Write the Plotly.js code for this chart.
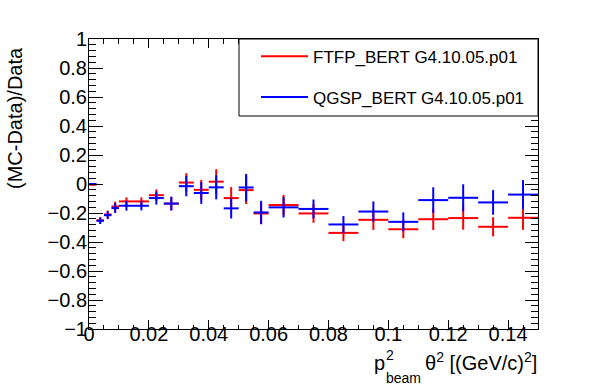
<!DOCTYPE html>
<html>
<head>
<meta charset="utf-8">
<script src="https://cdn.plot.ly/plotly-3.0.1.min.js"></script>
<style>html,body{margin:0;padding:0;background:#fff;}#chart{width:598px;height:386px;}</style>
</head>
<body>
<div id="chart"></div>
<script>
// bin centres of p_beam^2 theta^2 [(GeV/c)^2]
const binCenter = [0.00125, 0.00375, 0.00625, 0.00875, 0.0125, 0.0175, 0.0225, 0.0275, 0.0325, 0.0375, 0.0425, 0.0475, 0.0525, 0.0575, 0.065, 0.075, 0.085, 0.095, 0.105, 0.115, 0.125, 0.135, 0.145];
const binHalfWidth = [0.00125, 0.00125, 0.00125, 0.00125, 0.0025, 0.0025, 0.0025, 0.0025, 0.0025, 0.0025, 0.0025, 0.0025, 0.0025, 0.0025, 0.005, 0.005, 0.005, 0.005, 0.005, 0.005, 0.005, 0.005, 0.005];
// (MC-Data)/Data
const ftfpValue = [-0.005, -0.25, -0.21, -0.155, -0.12, -0.12, -0.077, -0.135, 0.01, -0.04, 0.016, -0.097, -0.042, -0.203, -0.145, -0.203, -0.337, -0.247, -0.312, -0.243, -0.235, -0.295, -0.233];
const ftfpError = [0.004, 0.022, 0.027, 0.033, 0.028, 0.028, 0.04, 0.047, 0.065, 0.068, 0.086, 0.076, 0.096, 0.075, 0.07, 0.065, 0.057, 0.07, 0.062, 0.074, 0.08, 0.066, 0.083];
const qgspValue = [0.0, -0.254, -0.215, -0.166, -0.15, -0.15, -0.097, -0.135, -0.015, -0.062, -0.023, -0.168, -0.024, -0.196, -0.161, -0.172, -0.279, -0.19, -0.261, -0.111, -0.095, -0.127, -0.073];
const qgspError = [0.004, 0.022, 0.027, 0.034, 0.034, 0.032, 0.045, 0.047, 0.07, 0.075, 0.083, 0.07, 0.094, 0.08, 0.07, 0.065, 0.058, 0.07, 0.065, 0.088, 0.093, 0.085, 0.1];
const seriesNames = ['FTFP_BERT G4.10.05.p01', 'QGSP_BERT G4.10.05.p01'];
const seriesColors = ['#ff0000', '#0000ff'];
const xTickValues = [0, 0.02, 0.04, 0.06, 0.08, 0.1, 0.12, 0.14];
const xTickLabels = ['0', '0.02', '0.04', '0.06', '0.08', '0.1', '0.12', '0.14'];

function dataTrace(y, err, i) {
  return {
    type: 'scatter', mode: 'markers', x: binCenter, y: y, name: seriesNames[i],
    showlegend: false, legendgroup: 'g' + i, hoverinfo: 'x+y',
    marker: {size: 4, color: seriesColors[i], opacity: 0},
    error_x: {type: 'data', array: binHalfWidth, visible: true, width: 0, thickness: 2, color: seriesColors[i]},
    error_y: {type: 'data', array: err, visible: true, width: 0, thickness: 2, color: seriesColors[i]}
  };
}
function legendTrace(i) {
  return {type: 'scatter', mode: 'lines', x: [null], y: [null], name: seriesNames[i],
    legendgroup: 'g' + i, line: {color: seriesColors[i], width: 2}, hoverinfo: 'skip'};
}

const traces = [legendTrace(0), legendTrace(1), dataTrace(ftfpValue, ftfpError, 0), dataTrace(qgspValue, qgspError, 1)];

const L = 89, R = 538, T = 39, B = 329;
const px = v => (v - L) / (R - L);
const py = v => (B - v) / (B - T);
const FONT = 'Liberation Sans, Arial, Helvetica, sans-serif';

const layout = {
  width: 598, height: 386,
  margin: {l: L, r: 598 - R, t: T, b: 386 - B, pad: 0},
  paper_bgcolor: '#ffffff', plot_bgcolor: '#ffffff',
  font: {family: FONT, size: 20, color: '#000000'},
  xaxis: {
    range: [0, 0.15], tickvals: xTickValues, ticktext: xTickLabels,
    ticks: 'inside', ticklen: 9, tickwidth: 1, tickcolor: '#000', ticklabelstandoff: -13,
    showline: true, linecolor: '#000', linewidth: 1, mirror: 'ticks',
    showgrid: false, zeroline: false, tickfont: {size: 20, family: FONT},
    minor: {dtick: 0.005, tick0: 0, ticks: 'inside', ticklen: 4.5, tickwidth: 1, tickcolor: '#000', showgrid: false}
  },
  yaxis: {
    range: [-1, 1], dtick: 0.2, tick0: 0,
    ticks: 'inside', ticklen: 13.5, tickwidth: 1, tickcolor: '#000', ticklabelstandoff: -3,
    showline: true, linecolor: '#000', linewidth: 1, mirror: 'ticks',
    showgrid: false, zeroline: false, tickfont: {size: 20, family: FONT},
    minor: {dtick: 0.04, tick0: 0, ticks: 'inside', ticklen: 6.7, tickwidth: 1, tickcolor: '#000', showgrid: false}
  },
  showlegend: true,
  legend: {
    x: px(256), y: py(38.8), xanchor: 'left', yanchor: 'top',
    bgcolor: 'rgba(0,0,0,0)', borderwidth: 0,
    font: {size: 17, family: FONT}, itemwidth: 47, tracegroupgap: 15.5
  },
  shapes: [
    {type: 'rect', xref: 'paper', yref: 'paper', x0: px(239), x1: 1, y0: py(116), y1: 1,
     line: {color: '#000', width: 1}, fillcolor: '#ffffff', layer: 'above'}
  ],
  annotations: [
    {text: '(MC-Data)/Data', textangle: -90, xref: 'paper', yref: 'paper', x: px(15), y: py(118),
     xanchor: 'center', yanchor: 'middle', showarrow: false, font: {size: 20, family: FONT}},
    {text: 'p', xref: 'paper', yref: 'paper', x: px(372), y: py(376), xanchor: 'left', yanchor: 'bottom',
     showarrow: false, font: {size: 20, family: FONT}},
    {text: '2', xref: 'paper', yref: 'paper', x: px(384), y: py(364.5), xanchor: 'left', yanchor: 'bottom',
     showarrow: false, font: {size: 14, family: FONT}},
    {text: 'beam', xref: 'paper', yref: 'paper', x: px(384), y: py(387.5), xanchor: 'left', yanchor: 'bottom',
     showarrow: false, font: {size: 14, family: FONT}},
    {text: 'θ<sup>2</sup> [(GeV/c)<sup>2</sup>]', xref: 'paper', yref: 'paper', x: px(539), y: py(376),
     xanchor: 'right', yanchor: 'bottom', showarrow: false, font: {size: 20, family: FONT}}
  ]
};

Plotly.newPlot('chart', traces, layout, {displayModeBar: false, staticPlot: true});
</script>
</body>
</html>
